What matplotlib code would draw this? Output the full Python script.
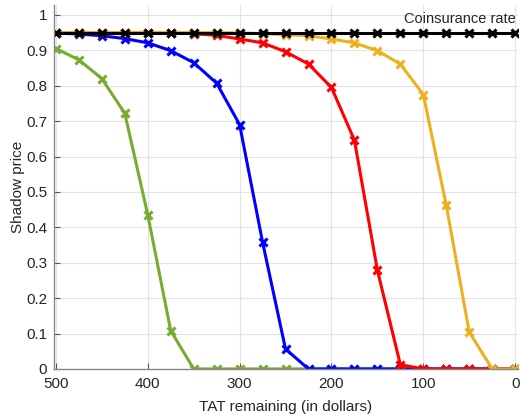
import matplotlib
matplotlib.use("Agg")
import matplotlib.pyplot as plt

plt.rcParams['font.family'] = ['Liberation Sans', 'DejaVu Sans']

tat = [500, 475, 450, 425, 400, 375, 350, 325, 300, 275, 250, 225, 200, 175, 150, 125, 100, 75, 50, 25, 0]

green = [0.905, 0.873, 0.820, 0.722, 0.435, 0.108, 0, 0, 0, 0, 0, 0, 0, 0, 0, 0, 0, 0, 0, 0, 0]
blue = [0.949, 0.946, 0.941, 0.933, 0.921, 0.899, 0.865, 0.807, 0.690, 0.358, 0.056, 0, 0, 0, 0, 0, 0, 0, 0, 0, 0]
red = [0.950, 0.950, 0.950, 0.950, 0.950, 0.949, 0.947, 0.942, 0.932, 0.921, 0.896, 0.861, 0.795, 0.646, 0.279, 0.012, 0, 0, 0, 0, 0]
yellow = [0.950, 0.950, 0.950, 0.950, 0.950, 0.950, 0.950, 0.950, 0.949, 0.947, 0.944, 0.941, 0.932, 0.921, 0.899, 0.861, 0.775, 0.462, 0.104, 0, 0]
coins = [0.95] * len(tat)

series = [
    (green, '#77AC30'),
    (blue, '#0000FF'),
    (red, '#FF0000'),
    (yellow, '#EDB120'),
    (coins, '#000000'),
]

fig = plt.figure(figsize=(5.2, 4.15), dpi=100)
ax = fig.add_axes([0.104, 0.111, 0.892, 0.877])

for vals, col in series:
    ax.plot(tat, vals, color=col, lw=2.2, marker='x', ms=5.5, mew=2.2)

ax.set_xlim(502, -3)
ax.set_ylim(0, 1.028)
ax.set_xticks([500, 400, 300, 200, 100, 0])
ax.set_yticks([0, 0.1, 0.2, 0.3, 0.4, 0.5, 0.6, 0.7, 0.8, 0.9, 1])
ax.set_yticklabels(['0', '0.1', '0.2', '0.3', '0.4', '0.5', '0.6', '0.7', '0.8', '0.9', '1'])
ax.grid(True, color='#e3e3e3', lw=0.8)
ax.set_axisbelow(True)
for s in ['top', 'right']:
    ax.spines[s].set_visible(False)
for s in ['left', 'bottom']:
    ax.spines[s].set_color('#888888')
    ax.spines[s].set_linewidth(1.0)
ax.tick_params(direction='in', length=4, color='#555555', labelsize=11, labelcolor='#262626')
ax.tick_params(axis='x', pad=6)
ax.tick_params(axis='y', pad=5)
ax.set_xlabel('TAT remaining (in dollars)', fontsize=11, color='#262626', labelpad=6)
ax.set_ylabel('Shadow price', fontsize=11, color='#262626', labelpad=1)
ax.text(-1, 0.988, 'Coinsurance rate', ha='right', va='center', fontsize=10.5, color='#262626')

fig.savefig('out.png', dpi=100)
